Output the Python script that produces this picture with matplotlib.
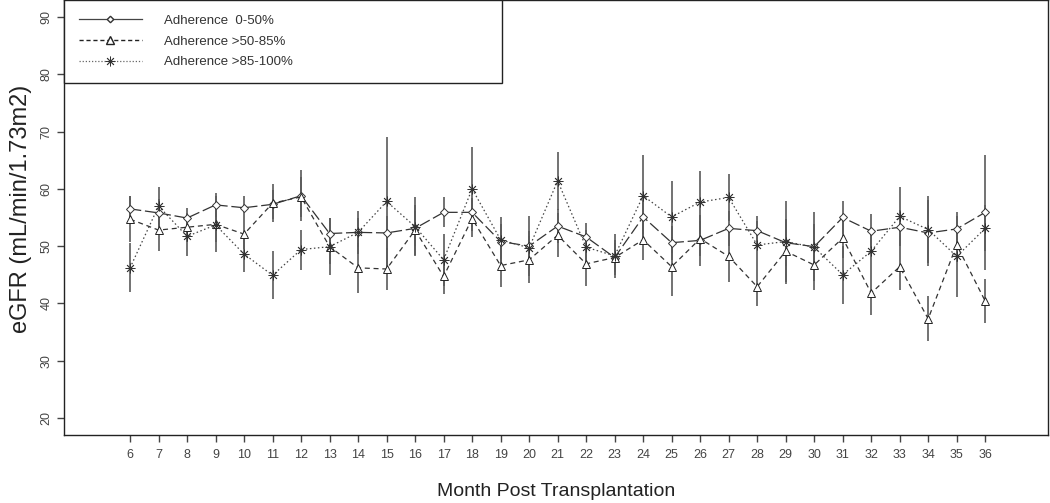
import matplotlib
matplotlib.use("Agg")
import matplotlib.pyplot as plt
from matplotlib.lines import Line2D

plt.rcParams['font.family'] = ['Liberation Sans', 'DejaVu Sans']

months = list(range(6, 37))

# adherence 0-50% (diamonds)
low_mean = [56.5, 55.8, 54.9, 57.2, 56.7, 57.3, 58.8, 52.2, 52.4, 52.3, 53.1,
            55.9, 55.9, 50.8, 50.0, 53.5, 51.6, 48.0, 55.1, 50.6, 51.0, 53.1,
            52.7, 50.6, 49.9, 55.0, 52.6, 53.3, 52.3, 53.0, 55.9]
low_err = [2.2, 2.5, 1.8, 2.1, 2.0, 2.5, 4.5, 2.7, 2.5, 3.0, 3.0,
           2.6, 2.5, 3.0, 5.3, 3.0, 2.5, 3.0, 3.0, 3.0, 4.4, 3.0,
           2.6, 4.0, 6.0, 2.9, 3.0, 3.0, 5.7, 2.9, 10.1]

# adherence >50-85% (triangles)
mid_mean = [54.7, 52.8, 53.3, 53.8, 52.1, 57.5, 58.6, 49.9, 46.2, 46.0, 52.8,
            44.7, 54.8, 46.6, 47.6, 51.9, 46.9, 48.0, 51.1, 46.4, 51.3, 48.2,
            42.9, 49.1, 46.7, 51.4, 41.8, 46.4, 37.3, 50.2, 40.4]
mid_err = [4.0, 3.7, 2.5, 4.9, 2.6, 3.3, 3.5, 5.0, 4.4, 3.6, 4.3,
           3.0, 3.2, 3.7, 4.1, 3.8, 3.8, 2.5, 3.5, 5.2, 3.0, 4.4,
           3.3, 5.7, 4.3, 3.4, 3.8, 4.0, 3.9, 3.0, 3.9]

# adherence >85-100% (asterisks)
high_mean = [46.2, 57.0, 51.7, 53.7, 48.6, 44.9, 49.4, 49.9, 52.4, 57.8, 53.4,
             47.6, 60.0, 51.1, 49.7, 61.4, 49.8, 48.3, 58.8, 55.1, 57.7, 58.5,
             50.2, 50.8, 49.8, 45.0, 49.1, 55.2, 52.9, 48.2, 53.1]
high_err = [4.3, 3.4, 3.4, 3.0, 3.1, 4.2, 3.5, 3.0, 3.8, 11.2, 5.2,
            4.5, 7.3, 4.0, 3.0, 5.1, 3.0, 3.9, 7.2, 6.3, 5.5, 4.1,
            4.1, 7.0, 4.0, 5.1, 3.5, 5.1, 5.9, 7.1, 4.0]

labels = ['Adherence  0-50%', 'Adherence >50-85%', 'Adherence >85-100%']

fig = plt.figure(figsize=(10.5, 5.03), dpi=100)
ax = fig.add_axes([0.061, 0.135, 0.937, 0.865])

bar_col = '#5a5a5a'
for mean, err in [(low_mean, low_err), (mid_mean, mid_err), (high_mean, high_err)]:
    ax.errorbar(months, mean, yerr=err, fmt='none', ecolor=bar_col,
                elinewidth=1.2, capsize=0, zorder=1)

ax.plot(months, low_mean, color='#333333', lw=0.9, dashes=(9, 3),
        marker='D', ms=3.8, mfc='white', mec='#333333', mew=0.7,
        label=labels[0], zorder=3)
ax.plot(months, mid_mean, color='#333333', lw=0.9, dashes=(4, 3),
        marker='^', ms=6, mfc='white', mec='#222222', mew=0.7,
        label=labels[1], zorder=3)
ax.plot(months, high_mean, color='#444444', lw=0.9, dashes=(1.2, 2),
        marker=(8, 2, 0), ms=7, mec='#333333', mew=0.6,
        label=labels[2], zorder=3)

ax.set_xlim(3.684, 38.2)
ax.set_ylim(16.98, 93.0)
ax.set_xticks(months)
ax.set_yticks(range(20, 91, 10))
ax.tick_params(axis='both', direction='out', length=5, width=1,
               color='#444444', labelsize=9, labelcolor='#444444')
ax.tick_params(axis='x', pad=5)
ax.tick_params(axis='y', labelrotation=90)
for lab in ax.get_yticklabels():
    lab.set_verticalalignment('center')

for s in ax.spines.values():
    s.set_color('#222222')
    s.set_linewidth(1.0)

ax.set_xlabel('Month Post Transplantation', fontsize=14, color='#222222', labelpad=16)
ax.set_ylabel('eGFR (mL/min/1.73m2)', fontsize=17, color='#222222')
ax.yaxis.set_label_coords(-0.033, 0.52)

# the legend uses solid / dashed / dotted samples like the original
handles = [
    Line2D([], [], color='#444444', lw=0.9, marker='D', ms=3.3, mfc='white', mec='#333333'),
    Line2D([], [], color='#222222', lw=1.0, dashes=(3, 2), marker='^', ms=5.5, mfc='white', mec='#222222'),
    Line2D([], [], color='#666666', lw=0.9, dashes=(1, 1.5), marker=(8, 2, 0), ms=7, mec='#333333', mew=0.6),
]
leg = ax.legend(handles, labels, loc='upper left', bbox_to_anchor=(0, 1.0, 0.445, 0),
                mode='expand', borderaxespad=0, fontsize=9.5, frameon=True,
                fancybox=False, framealpha=1, edgecolor='#222222',
                handlelength=4.8, handletextpad=1.7, labelspacing=0.65, borderpad=1.1)
leg.get_frame().set_linewidth(1.0)
for t in leg.get_texts():
    t.set_color('#333333')

fig.savefig('out.png', dpi=100)
